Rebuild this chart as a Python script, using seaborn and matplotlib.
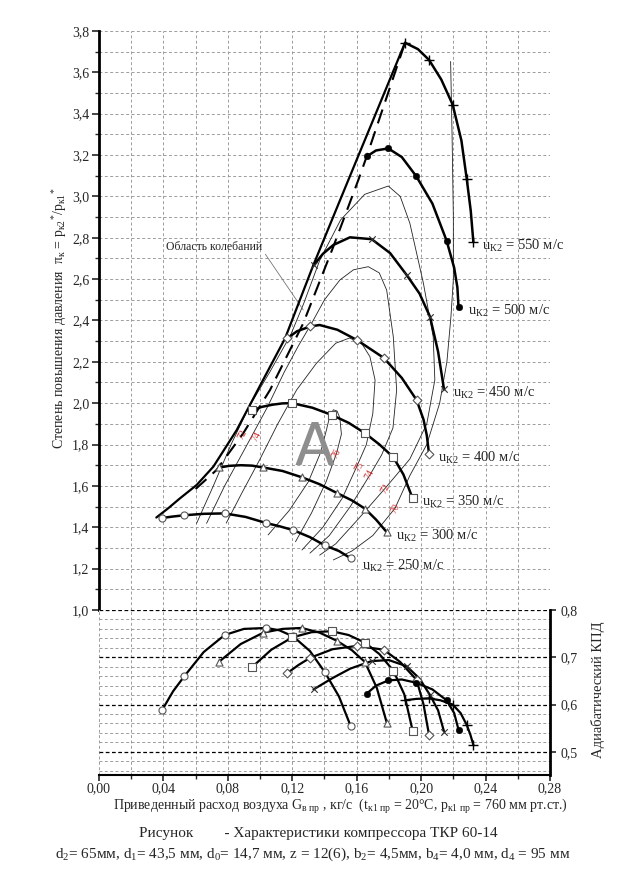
import numpy as np
import matplotlib
matplotlib.use("Agg")
import matplotlib.pyplot as plt
from matplotlib.ticker import MultipleLocator, FuncFormatter
import seaborn as sns

# ---------------- data ----------------
# flow G_в пр (kg/s) at the marked points of each speed line,
# pressure ratio and adiabatic efficiency at those points
g250 = [0.0393, 0.0530, 0.0780, 0.1040, 0.1206, 0.1403, 0.1563]
pi250 = [1.445, 1.458, 1.467, 1.420, 1.386, 1.312, 1.250]
eta250 = [0.589, 0.660, 0.747, 0.762, 0.744, 0.668, 0.554]

g300 = [0.0747, 0.1020, 0.1258, 0.1476, 0.1651, 0.1788]
pi300 = [1.689, 1.689, 1.642, 1.566, 1.490, 1.375]
eta300 = [0.691, 0.752, 0.762, 0.735, 0.690, 0.560]

g350 = [0.0953, 0.1200, 0.1445, 0.1651, 0.1827, 0.1947]
pi350 = [1.965, 2.000, 1.943, 1.855, 1.739, 1.540]
eta350 = [0.680, 0.742, 0.755, 0.731, 0.672, 0.545]

g400 = [0.1167, 0.1312, 0.1600, 0.1768, 0.1972, 0.2049]
pi400 = [2.313, 2.371, 2.306, 2.219, 2.015, 1.756]
eta400 = [0.666, 0.699, 0.724, 0.716, 0.652, 0.536]

g450 = [0.1332, 0.1693, 0.1910, 0.2055, 0.2142]
pi450 = [2.666, 2.793, 2.620, 2.418, 2.067]
eta450 = [0.632, 0.692, 0.681, 0.620, 0.543]

g500 = [0.1662, 0.1796, 0.1970, 0.2158, 0.2232]
pi500 = [3.193, 3.232, 3.097, 2.786, 2.467]
eta500 = [0.623, 0.651, 0.646, 0.609, 0.547]

g550 = [0.1900, 0.2049, 0.2196, 0.2283, 0.2324]
pi550 = [3.743, 3.660, 3.443, 3.085, 2.781]
eta550 = [0.609, 0.613, 0.600, 0.557, 0.515]

# extra points read between the markers (pressure ratio lines)
g250_p = [0.046, 0.065, 0.091, 0.112, 0.131, 0.149]
pi250_p = [1.452, 1.465, 1.450, 1.405, 1.352, 1.285]
g300_p = [0.081, 0.088, 0.095, 0.114, 0.137, 0.157, 0.172]
pi300_p = [1.697, 1.700, 1.698, 1.672, 1.608, 1.530, 1.437]
g350_p = [0.101, 0.108, 0.114, 0.1325, 0.155, 0.174, 0.189]
pi350_p = [1.982, 1.993, 1.999, 1.978, 1.905, 1.801, 1.655]
g400_p = [0.123, 0.137, 0.148, 0.188, 0.2015, 0.2035]
pi400_p = [2.348, 2.378, 2.355, 2.122, 1.920, 1.845]
g450_p = [0.139, 0.1455, 0.1558, 0.1807, 0.199, 0.2105]
pi450_p = [2.722, 2.765, 2.802, 2.726, 2.530, 2.250]
g500_p = [0.172, 0.188, 0.207, 0.2205, 0.2225]
pi500_p = [3.222, 3.190, 2.965, 2.655, 2.560]
g550_p = [0.198, 0.2125, 0.225, 0.2308]
pi550_p = [3.712, 3.565, 3.270, 2.930]

# extra points read between the markers (efficiency lines)
g250_e = [0.046, 0.065, 0.090, 0.112, 0.131, 0.149]
eta250_e = [0.628, 0.711, 0.760, 0.757, 0.713, 0.617]
g300_e = [0.088, 0.114, 0.137, 0.157, 0.1725]
eta300_e = [0.728, 0.760, 0.752, 0.715, 0.635]
g350_e = [0.107, 0.132, 0.155, 0.174, 0.1895]
eta350_e = [0.716, 0.753, 0.747, 0.707, 0.622]
g400_e = [0.124, 0.145, 0.187, 0.2015]
eta400_e = [0.684, 0.717, 0.690, 0.600]
g450_e = [0.145, 0.156, 0.180, 0.199, 0.2105]
eta450_e = [0.656, 0.676, 0.694, 0.655, 0.588]
g500_e = [0.172, 0.188, 0.207, 0.2205]
eta500_e = [0.640, 0.653, 0.632, 0.582]
g550_e = [0.197, 0.212, 0.2245, 0.2305]
eta550_e = [0.612, 0.609, 0.582, 0.537]

# surge line and the dashed line beside it
surge_g = [0.0356, 0.0430, 0.0503, 0.0606, 0.0710, 0.0855, 0.0990, 0.1155, 0.1330, 0.1548, 0.1900]
surge_pi = [1.447, 1.492, 1.540, 1.604, 1.693, 1.870, 2.070, 2.313, 2.666, 3.079, 3.743]
dash_g = [0.0600, 0.0730, 0.0813, 0.0896, 0.1062, 0.1268, 0.1455, 0.1610, 0.1662, 0.1900]
dash_pi = [1.585, 1.677, 1.766, 1.855, 2.064, 2.386, 2.757, 3.079, 3.193, 3.743]

# efficiency contours (thin lines) in the map
c76_g = [0.105, 0.118, 0.130, 0.1375, 0.1412, 0.1432, 0.1455, 0.1478, 0.1495, 0.1505, 0.1475, 0.141, 0.132, 0.122]
c76_pi = [1.363, 1.48, 1.62, 1.76, 1.87, 1.935, 1.968, 1.962, 1.93, 1.85, 1.758, 1.62, 1.47, 1.33]
c75_g = [0.079, 0.089, 0.100, 0.111, 0.1227, 0.135, 0.147, 0.1555, 0.163, 0.1682, 0.1714, 0.1700,
         0.1660, 0.1600, 0.1510, 0.1390, 0.1260]
c75_pi = [1.42, 1.57, 1.73, 1.90, 2.064, 2.193, 2.29, 2.315, 2.29, 2.225, 2.112, 1.95,
          1.80, 1.693, 1.54, 1.40, 1.29]
c74_g = [0.0668, 0.078, 0.092, 0.1045, 0.115, 0.124, 0.132, 0.140, 0.1496, 0.158, 0.1672, 0.174,
         0.1786, 0.1827, 0.1848, 0.1825, 0.1755, 0.1682, 0.156, 0.143, 0.131]
c74_pi = [1.419, 1.60, 1.80, 1.98, 2.15, 2.28, 2.386, 2.50, 2.596, 2.645, 2.66, 2.63,
          2.547, 2.322, 2.064, 1.88, 1.75, 1.653, 1.50, 1.36, 1.275]
c72_g = [0.0606, 0.071, 0.082, 0.093, 0.106, 0.119, 0.127, 0.137, 0.150, 0.165, 0.1796, 0.187,
         0.193, 0.2014, 0.2075, 0.2085, 0.2035, 0.193, 0.1776, 0.161, 0.147, 0.137]
c72_pi = [1.419, 1.60, 1.80, 1.98, 2.15, 2.33, 2.48, 2.69, 2.886, 3.01, 3.05, 3.0,
          2.87, 2.58, 2.32, 2.112, 1.90, 1.73, 1.588, 1.44, 1.32, 1.265]
c70_g = [0.2183, 0.2192, 0.2200, 0.2200, 0.2185, 0.2160, 0.2115, 0.2035, 0.1930, 0.1838, 0.1700, 0.1570, 0.1455]
c70_pi = [3.652, 3.30, 2.90, 2.60, 2.418, 2.20, 2.00, 1.80, 1.65, 1.492, 1.36, 1.285, 1.242]

# small red contour labels
lab_g = [0.1475, 0.1620, 0.1682, 0.1776, 0.1838, 0.0890, 0.0975]
lab_pi = [1.758, 1.693, 1.653, 1.588, 1.492, 1.850, 1.840]
lab_txt = ["76", "75", "74", "72", "70", "72", "74"]

speeds = [250, 300, 350, 400, 450, 500, 550]

# ---------------- style ----------------
sns.set_style("white")
plt.rcParams['font.family'] = ['Liberation Serif', 'DejaVu Serif']
plt.rcParams['mathtext.fontset'] = 'custom'
plt.rcParams['mathtext.rm'] = 'Liberation Serif'
plt.rcParams['mathtext.it'] = 'Liberation Serif:italic'
plt.rcParams['mathtext.bf'] = 'Liberation Serif:bold'

light = dict(color='#9c9c9c', linestyle=(0, (3, 2.5)), linewidth=0.7)

open_mk = dict(s=26, facecolor='white', edgecolor='#555555', linewidth=0.8)
mstyle = {
    250: dict(marker='o', **open_mk),
    300: dict(marker='^', **open_mk),
    350: dict(marker='s', **open_mk),
    400: dict(marker='D', s=20, facecolor='white', edgecolor='#555555', linewidth=0.8),
    450: dict(marker='x', s=22, color='#333333', linewidth=0.8),
    500: dict(marker='o', s=22, color='black', edgecolor='black'),
    550: dict(marker='+', s=55, color='black', linewidth=1.0),
}

lines = {
    250: (g250, pi250, eta250, g250_p, pi250_p, g250_e, eta250_e),
    300: (g300, pi300, eta300, g300_p, pi300_p, g300_e, eta300_e),
    350: (g350, pi350, eta350, g350_p, pi350_p, g350_e, eta350_e),
    400: (g400, pi400, eta400, g400_p, pi400_p, g400_e, eta400_e),
    450: (g450, pi450, eta450, g450_p, pi450_p, g450_e, eta450_e),
    500: (g500, pi500, eta500, g500_p, pi500_p, g500_e, eta500_e),
    550: (g550, pi550, eta550, g550_p, pi550_p, g550_e, eta550_e),
}


def draw_speed(ax, gm, vm, gx, vx, st, lw=1.8):
    g = np.concatenate([gm, gx])
    v = np.concatenate([vm, vx])
    order = np.argsort(g)
    sns.lineplot(x=g[order], y=v[order], ax=ax, sort=False, estimator=None,
                 color='black', lw=lw, zorder=4)
    sns.scatterplot(x=gm, y=vm, ax=ax, zorder=5, legend=False, **st)


fig = plt.figure(figsize=(6.28, 8.94), dpi=100)
ax = fig.add_axes([0.1576, 0.3177, 0.7182, 0.6477])
axe = fig.add_axes([0.1576, 0.1331, 0.7182, 0.1846])

# ---------------- upper map ----------------
for c_g, c_pi in [(c76_g, c76_pi), (c75_g, c75_pi), (c74_g, c74_pi), (c72_g, c72_pi), (c70_g, c70_pi)]:
    sns.lineplot(x=c_g, y=c_pi, ax=ax, sort=False, estimator=None, color='#222222', lw=0.6, zorder=3)

sns.lineplot(x=surge_g, y=surge_pi, ax=ax, sort=False, estimator=None, color='black', lw=1.6, zorder=4)
sns.lineplot(x=dash_g, y=dash_pi, ax=ax, sort=False, estimator=None, color='black', lw=1.5,
             linestyle=(0, (7, 4)), zorder=4)

for u in speeds:
    gm, pm, em, gp, pp, ge, ee = lines[u]
    draw_speed(ax, gm, pm, gp, pp, mstyle[u])
    off = (11, -8) if u == 250 else (9, -4)
    ax.annotate("u$_{\\mathrm{К2}}$ = %d м/с" % u, xy=(gm[-1], pm[-1]), xytext=off,
                textcoords='offset pixels', ha='left', va='center', fontsize=10.5, zorder=6)

for g, p, t in zip(lab_g, lab_pi, lab_txt):
    ax.text(g, p, t, color='#d42a2a', fontsize=7, rotation=62, ha='center', va='center', zorder=6)

ax.text(0.1335, 1.78, "A", fontsize=42, color='#8e8e8e', ha='center', va='center',
        family='DejaVu Sans', zorder=6)

ax.annotate("Область колебаний", xy=(0.1268, 2.451), xytext=(0.0416, 2.755),
            fontsize=8.5, ha='left', va='center',
            arrowprops=dict(arrowstyle='-', color='#777777', lw=0.6, shrinkA=0, shrinkB=0,
                            relpos=(1.0, 0.3)))

ax.set_xlim(0, 0.28)
ax.set_ylim(1.0, 3.8)
ax.xaxis.set_major_locator(MultipleLocator(0.02))
ax.yaxis.set_major_locator(MultipleLocator(0.2))
ax.yaxis.set_minor_locator(MultipleLocator(0.1))
ax.yaxis.set_major_formatter(FuncFormatter(lambda v, p: f"{v:.1f}".replace('.', ',')))
ax.grid(True, which='major', axis='x', **light)
ax.grid(True, which='both', axis='y', **light)
ax.set_axisbelow(True)
ax.tick_params(axis='x', length=0, labelbottom=False)
ax.tick_params(axis='y', which='major', direction='out', length=5, width=1.2, labelsize=10, pad=2, left=True)
ax.tick_params(axis='y', which='minor', direction='out', length=3, width=1.0, left=True)
for side in ['top', 'right', 'bottom']:
    ax.spines[side].set_visible(False)
ax.spines['left'].set_linewidth(2.0)
ax.spines['left'].set_color('black')
ax.set_xlabel('')
ax.set_ylabel('')

# ---------------- efficiency ----------------
for u in speeds:
    gm, pm, em, gp, pp, ge, ee = lines[u]
    draw_speed(axe, gm, em, ge, ee, mstyle[u], lw=1.6)

axe.set_xlim(0, 0.28)
axe.set_ylim(0.451, 0.8)
axe.xaxis.set_major_locator(MultipleLocator(0.04))
axe.xaxis.set_minor_locator(MultipleLocator(0.02))
axe.yaxis.set_major_locator(MultipleLocator(0.1))
axe.yaxis.set_minor_locator(MultipleLocator(0.02))
axe.xaxis.set_major_formatter(FuncFormatter(lambda v, p: f"{v:.2f}".replace('.', ',')))
axe.yaxis.set_major_formatter(FuncFormatter(lambda v, p: f"{v:.1f}".replace('.', ',')))
axe.grid(True, which='both', axis='x', **light)
axe.grid(True, which='minor', axis='y', **light)
axe.grid(True, which='major', axis='y', color='black', linestyle=(0, (3, 2)), linewidth=0.9)
axe.set_axisbelow(True)
axe.yaxis.tick_right()
axe.tick_params(axis='x', which='major', direction='out', length=4, width=1.2, labelsize=10,
                pad=1.0, bottom=True)
axe.tick_params(axis='x', which='minor', direction='out', length=3, width=1.0, bottom=True)
axe.tick_params(axis='y', which='major', direction='out', length=4, width=1.2, labelsize=10, right=True)
axe.tick_params(axis='y', which='minor', length=0)
for side in ['top', 'left']:
    axe.spines[side].set_visible(False)
axe.spines['bottom'].set_linewidth(1.5)
axe.spines['right'].set_linewidth(2.0)
axe.spines['bottom'].set_color('black')
axe.spines['right'].set_color('black')
axe.set_xlabel('')
axe.set_ylabel('')

# ---------------- texts ----------------
fig.text(60 / 628, 1 - 318 / 894,
         "Степень повышения давления  π$_{\\mathrm{к}}$ = p$_{\\mathrm{к2}}$$^{*}$/p$_{\\mathrm{к1}}$$^{*}$",
         rotation=90, ha='center', va='center', fontsize=10)
fig.text(598 / 628, 1 - 690 / 894, "Адиабатический КПД", rotation=90, ha='center', va='center', fontsize=10.5)
fig.text(340 / 628, 1 - 806 / 894,
         "Приведенный расход воздуха G$_{\\mathrm{в\\ пр}}$ , кг/с  (t$_{\\mathrm{к1\\ пр}}$ = 20°С, "
         "p$_{\\mathrm{к1\\ пр}}$ = 760 мм рт.ст.)",
         ha='center', va='center', fontsize=10)
fig.text(318 / 628, 1 - 833 / 894, "Рисунок        - Характеристики компрессора ТКР 60-14",
         ha='center', va='center', fontsize=11)
fig.text(313 / 628, 1 - 854 / 894,
         "d$_{\\mathrm{2}}$= 65мм, d$_{\\mathrm{1}}$= 43,5 мм, d$_{\\mathrm{0}}$= 14,7 мм, z = 12(6), "
         "b$_{\\mathrm{2}}$= 4,5мм, b$_{\\mathrm{4}}$= 4,0 мм, d$_{\\mathrm{4}}$ = 95 мм",
         ha='center', va='center', fontsize=11)

fig.savefig("out.png", dpi=100)
